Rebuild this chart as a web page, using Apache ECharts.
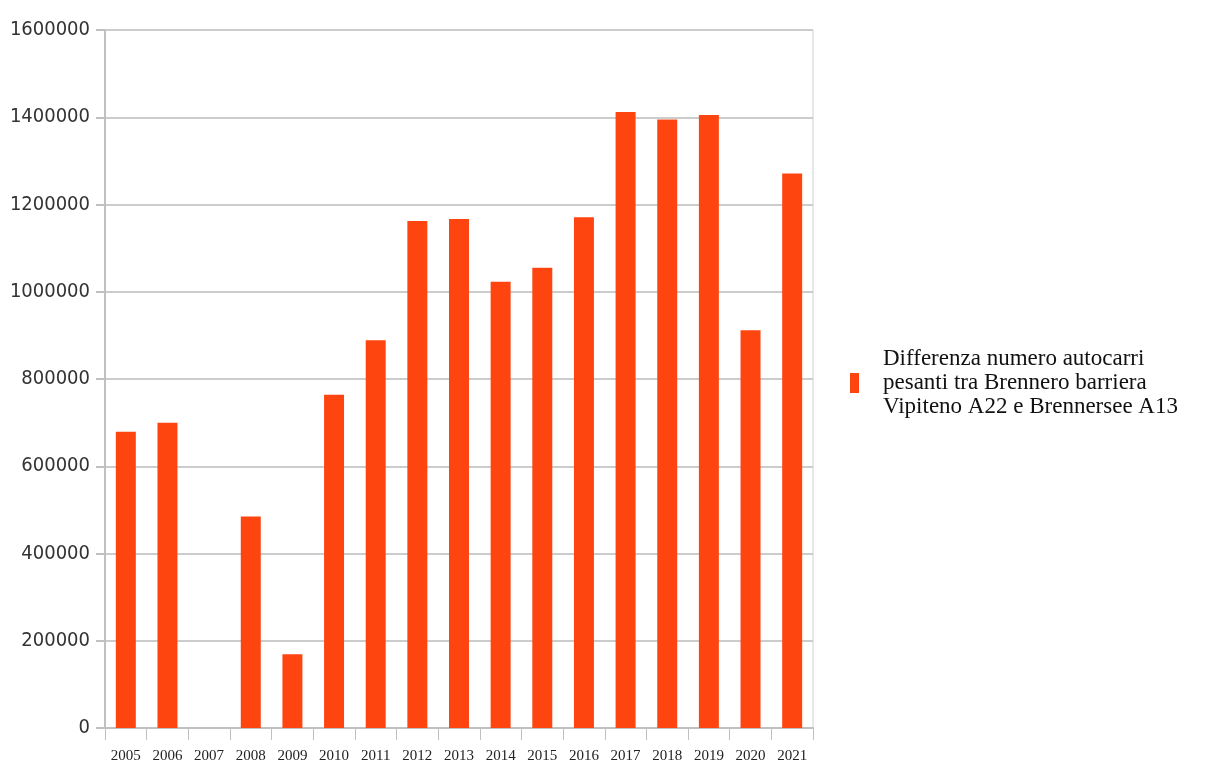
<!DOCTYPE html>
<html>
<head>
<meta charset="utf-8">
<script src="https://cdn.jsdelivr.net/npm/echarts@6/dist/echarts.min.js"></script>
<style>
html,body{margin:0;padding:0;background:#fff;}
#chart{width:1217px;height:769px;}
</style>
</head>
<body>
<div id="chart"></div>
<script>
const categories = ['2005','2006','2007','2008','2009','2010','2011','2012','2013','2014','2015','2016','2017','2018','2019','2020','2021'];
const values = [679000, 700000, 0, 485000, 169000, 764000, 889000, 1162000, 1167000, 1023000, 1055000, 1171000, 1412000, 1395000, 1405000, 912000, 1271000];
const yTicks = { min: 0, max: 1600000, interval: 200000 };
const seriesName = 'Differenza numero autocarri\npesanti tra Brennero barriera\nVipiteno A22 e Brennersee A13';

const chart = echarts.init(document.getElementById('chart'));
chart.setOption({
  animation: false,
  backgroundColor: '#ffffff',
  grid: { left: 105, right: 404, top: 30, bottom: 41, containLabel: false,
          show: true, borderColor: '#d0d0d0', borderWidth: 1 },
  legend: {
    left: 845, top: 342, orient: 'vertical',
    itemWidth: 9, itemHeight: 20, itemGap: 0,
    icon: 'rect',
    textStyle: { fontFamily: "'Liberation Serif', 'Times New Roman', serif", fontSize: 23, lineHeight: 24, color: '#111', padding: [0, 0, 0, 19] },
    data: [seriesName]
  },
  xAxis: {
    type: 'category',
    data: categories,
    axisLine: { lineStyle: { color: '#c0c0c0', width: 2 } },
    axisTick: { show: true, length: 12, alignWithLabel: false, lineStyle: { color: '#c0c0c0', width: 1 } },
    axisLabel: { margin: 21, fontFamily: "'Liberation Serif', 'Times New Roman', serif", fontSize: 15, color: '#222', interval: 0 },
    splitLine: { show: false }
  },
  yAxis: {
    type: 'value',
    min: yTicks.min, max: yTicks.max, interval: yTicks.interval,
    axisLine: { show: true, lineStyle: { color: '#c0c0c0', width: 2 } },
    axisTick: { show: true, length: 9, lineStyle: { color: '#c0c0c0', width: 2 } },
    axisLabel: { margin: 15, fontFamily: "'DejaVu Sans Condensed', 'Liberation Sans Narrow', sans-serif", fontSize: 20, color: '#333',
                 formatter: function (v) { return String(v); } },
    splitLine: { show: true, lineStyle: { color: '#cccccc', width: 2 } }
  },
  series: [{
    name: seriesName,
    type: 'bar',
    data: values,
    barWidth: '48%',
    itemStyle: { color: '#fe4510' }
  }]
});
</script>
</body>
</html>
